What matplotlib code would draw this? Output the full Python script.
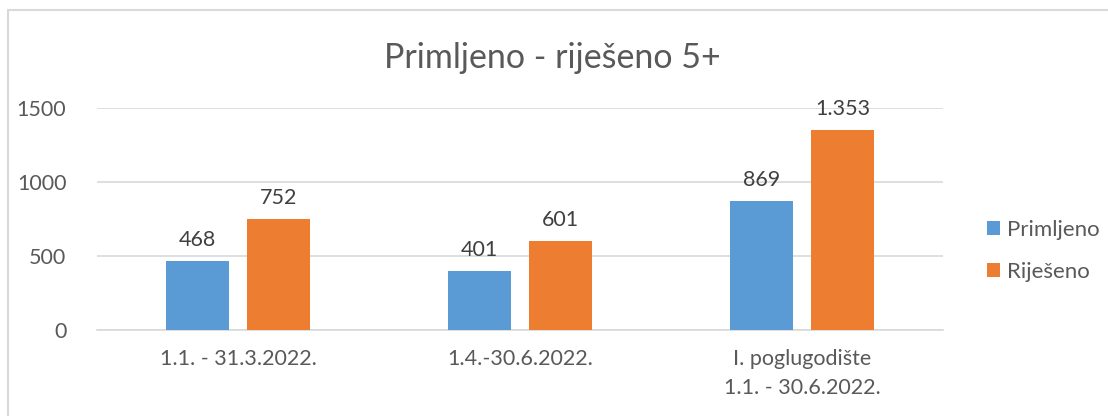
import numpy as np
import matplotlib.pyplot as plt
from matplotlib.patches import Rectangle

plt.rcParams['font.family'] = ['Lato', 'DejaVu Sans']

# podaci
categories = ["1.1. - 31.3.2022.", "1.4.-30.6.2022.", "I. poglugodište\n1.1. - 30.6.2022."]
primljeno = [468, 401, 869]
rijeseno = [752, 601, 1353]
series_names = ["Primljeno", "Riješeno"]

blue = "#5B9BD5"
orange = "#ED7D31"
text_col = "#595959"
grid_col = "#D9D9D9"

fig = plt.figure(figsize=(11.08, 4.16), dpi=100)
ax = fig.add_axes([0.0875, 0.2067, 0.7635, 0.5337])

x = np.arange(len(categories))
w = 0.2234
off = 0.1436
b1 = ax.bar(x - off, primljeno, w, color=blue, label=series_names[0], zorder=3)
b2 = ax.bar(x + off, rijeseno, w, color=orange, label=series_names[1], zorder=3)

def fmt(v):
    return f"{v:,}".replace(",", ".")

for bars, vals in [(b1, primljeno), (b2, rijeseno)]:
    for r, v in zip(bars, vals):
        ax.annotate(fmt(v), (r.get_x() + r.get_width() / 2, v), xytext=(0, 8),
                    textcoords="offset points", ha="center", va="bottom",
                    fontsize=15.5, color="#404040")

ax.set_xlim(-0.5, 2.5)
ax.set_ylim(0, 1500)
ax.set_yticks([0, 500, 1000, 1500])
ax.set_xticks(x)
ax.set_xticklabels(categories, linespacing=1.55)
ax.tick_params(axis="both", length=0, labelsize=15.5, labelcolor=text_col)
ax.tick_params(axis="y", pad=22)
ax.tick_params(axis="x", pad=14)
ax.yaxis.grid(True, color=grid_col, linewidth=1.2, zorder=0)
for s in ["top", "right", "left"]:
    ax.spines[s].set_visible(False)
ax.spines["bottom"].set_color(grid_col)
ax.spines["bottom"].set_linewidth(1.2)

fig.text(0.4985, 0.86, "Primljeno - riješeno 5+", ha="center", va="center",
         fontsize=24.5, color=text_col)

ax.legend(loc="center left", bbox_to_anchor=(1.028, 0.356), frameon=False,
          fontsize=16, labelcolor=text_col, handlelength=0.6, handleheight=0.6,
          handletextpad=0.3, labelspacing=1.0)

# okvir grafikona
fig.patches.append(Rectangle((8 / 1108, -0.05), 1.2, 1 - 10 / 416 + 0.05,
                             transform=fig.transFigure, fill=False,
                             edgecolor="#D9D9D9", linewidth=1.5))

fig.savefig("out.png", dpi=100)
